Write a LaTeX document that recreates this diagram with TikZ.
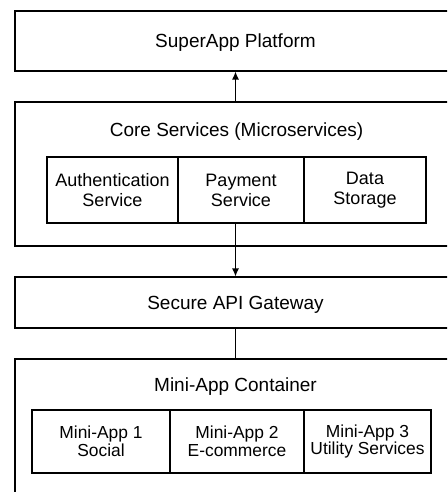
\documentclass[tikz,border=0pt]{standalone}
\usepackage{fontspec}
\setmainfont{Liberation Sans}
\usetikzlibrary{arrows.meta}

\begin{document}
\begin{tikzpicture}[x=0.5pt, y=-0.5pt, line width=0.6pt]
    % Set up styles for the boxes
    \tikzstyle{layer} = [draw, minimum width=220.5pt, inner sep=0pt, text depth=0pt, font=\fontsize{9.5}{11.5}\selectfont]
    \tikzstyle{title} = [inner sep=0pt, font=\fontsize{9.5}{11.5}\selectfont]
    \tikzstyle{part} = [draw, minimum height=33pt, inner sep=0pt, align=center, font=\fontsize{9}{10}\selectfont]
    \tikzstyle{app} = [part, minimum height=31.5pt, font=\fontsize{8.7}{8.8}\selectfont]
    \tikzstyle{arrow} = [-{Latex[length=4pt,width=3.6pt]}]

    % Crop the picture at the frame
    \clip (0,0) rectangle (447,492);

    % Top layer
    \node[layer, minimum height=30pt] (super) at (235.5,41) {SuperApp Platform};

    % Core services with its three parts
    \node[layer, minimum height=72pt] (core) at (235.5,174) {};
    \node[title] (coretitle) at (236.5,132) {Core Services (Microservices)};
    \node[part, minimum width=65.5pt] (auth) at (112.5,190) {Authentication\\Service};
    \node[part, minimum width=63pt] (pay) at (241,190) {Payment\\Service};
    \node[part, minimum width=61pt] (store) at (365,190) {Data\\Storage};

    % Gateway
    \node[layer, minimum height=25.5pt] (gate) at (235.5,302.5) {Secure API Gateway};

    % Mini-app container with its apps
    \node[layer, minimum height=73pt] (box) at (235.5,432) {};
    \node[title] (boxtitle) at (235.5,387) {Mini-App Container};
    \node[app, minimum width=69pt] (app1) at (101,441.5) {Mini-App 1\\Social};
    \node[app, minimum width=67pt] (app2) at (237,441.5) {Mini-App 2\\E-commerce};
    \node[app, minimum width=63.5pt] (app3) at (367.5,441.5) {Mini-App 3\\Utility Services};

    % Connectors
    \draw[arrow] (core.north) -- (super.south);
    \draw[arrow] (pay.south -| gate.north) -- (gate.north);
    \draw (gate.south) -- (box.north);

\end{tikzpicture}
\end{document}
